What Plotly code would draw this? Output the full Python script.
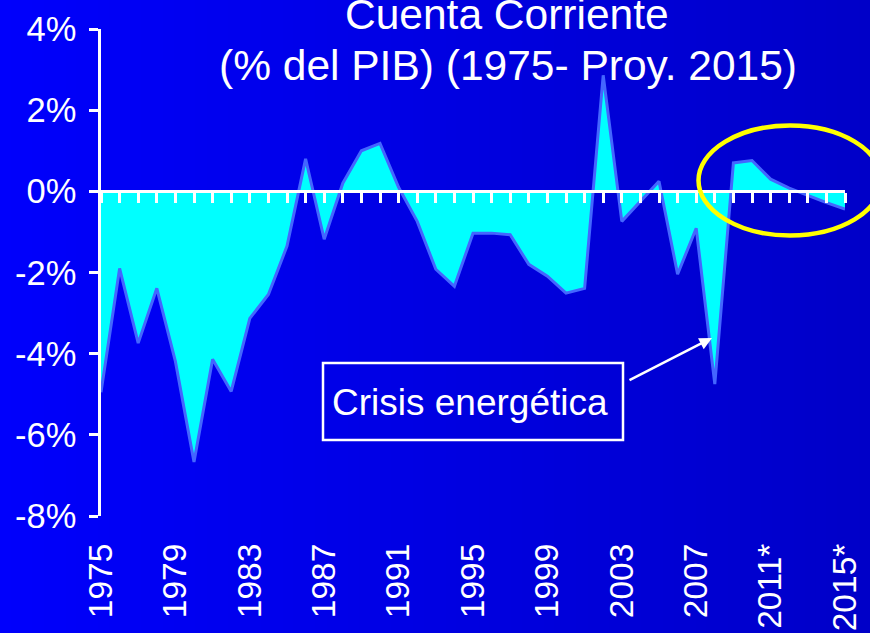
import plotly.graph_objects as go

# ---- data ----
years = list(range(1975, 2016))
cuenta_corriente = [-4.95, -1.9, -3.74, -2.39, -4.19, -6.67, -4.14, -4.93, -3.13, -2.54,
                    -1.35, 0.8, -1.18, 0.2, 1.0, 1.18, 0.1, -0.74, -1.92, -2.34,
                    -1.03, -1.03, -1.07, -1.8, -2.09, -2.51, -2.39, 2.86, -0.74, -0.25,
                    0.25, -2.04, -0.91, -4.75, 0.7, 0.76, 0.3, 0.08, -0.1, -0.28, -0.44]
x_tickvals = [1975, 1979, 1983, 1987, 1991, 1995, 1999, 2003, 2007, 2011, 2015]
x_ticktext = ["1975", "1979", "1983", "1987", "1991", "1995", "1999", "2003", "2007", "2011*", "2015*"]
y_tickvals = [-8, -6, -4, -2, 0, 2, 4]
y_ticktext = ["-8%", "-6%", "-4%", "-2%", "0%", "2%", "4%"]
title_line1 = "Cuenta Corriente"
title_line2 = "(% del PIB) (1975- Proy. 2015)"
note_text = "Crisis energética"

FONT = "Liberation Sans, Arial, sans-serif"
W, H = 870, 633
L, R, T, B = 101, 25, 29, 117
pw, ph = W - L - R, H - T - B

def px(xp):
    return (xp - L) / pw

def py(yp):
    return (H - B - yp) / ph

fig = go.Figure()
# area on the zero-line axis (x2)
fig.add_trace(go.Scatter(
    x=years, y=cuenta_corriente, mode="lines", fill="tozeroy",
    fillcolor="#00ffff", line=dict(color="#4466ff", width=3),
    hoverinfo="skip", showlegend=False, xaxis="x2", yaxis="y"))
# invisible copy so that the labelled bottom axis is drawn
fig.add_trace(go.Scatter(
    x=years, y=cuenta_corriente, mode="none", hoverinfo="skip",
    showlegend=False, xaxis="x", yaxis="y"))

# gradient background strips
shapes = []
n = 80
x_left, x_right = px(0), px(W)
for i in range(n):
    t = i / (n - 1)
    b = round(252 - 52 * t)
    x0 = x_left + (x_right - x_left) * i / n
    shapes.append(dict(type="rect", xref="paper", yref="paper", x0=x0, x1=x_right,
                       y0=py(H), y1=py(0), fillcolor=f"rgb(0,0,{b})",
                       line=dict(width=0), layer="below"))
# annotation box
shapes.append(dict(type="rect", xref="paper", yref="paper",
                   x0=px(323), x1=px(623), y0=py(440), y1=py(363),
                   line=dict(color="white", width=2.5), layer="above"))
# yellow ellipse
shapes.append(dict(type="circle", xref="paper", yref="paper",
                   x0=px(698.5), x1=px(881.5), y0=py(235.5), y1=py(125.5),
                   line=dict(color="#ffff00", width=4.5), layer="above"))

TS = 42.5
annotations = [
    dict(text=title_line1, xref="paper", yref="paper", x=px(507), y=py(29 - 0.35 * TS),
         xanchor="center", yanchor="middle", showarrow=False,
         font=dict(family=FONT, size=TS, color="white")),
    dict(text=title_line2, xref="paper", yref="paper", x=px(508), y=py(80 - 0.35 * TS),
         xanchor="center", yanchor="middle", showarrow=False,
         font=dict(family=FONT, size=TS, color="white")),
    dict(text=note_text, xref="paper", yref="paper", x=px(470), y=py(402),
         xanchor="center", yanchor="middle", showarrow=False,
         font=dict(family=FONT, size=37, color="white")),
    dict(text="", xref="paper", yref="paper", x=px(712), y=py(338),
         ax=628 - 712, ay=381 - 338, showarrow=True, arrowhead=2, arrowsize=1,
         arrowwidth=2.5, arrowcolor="white"),
]

fig.update_layout(
    width=W, height=H,
    margin=dict(l=L, r=R, t=T, b=B, pad=0, autoexpand=False),
    paper_bgcolor="rgb(0,0,228)", plot_bgcolor="rgba(0,0,0,0)",
    font=dict(family=FONT, color="white"),
    shapes=shapes, annotations=annotations,
    xaxis=dict(range=[1975, 2015], tickvals=x_tickvals, ticktext=x_ticktext,
               tickangle=-90, showline=False, showgrid=False, zeroline=False,
               ticks="", ticklabelstandoff=20, automargin=False,
               tickfont=dict(family=FONT, size=33.5, color="white"), fixedrange=True),
    xaxis2=dict(range=[1975, 2015], overlaying="x", anchor="free", position=8 / 12,
                side="bottom", showline=True, linecolor="white", linewidth=3,
                ticks="outside", ticklen=10, tickwidth=2.5, tickcolor="white",
                tick0=1975, dtick=1, showticklabels=False, showgrid=False,
                zeroline=False, layer="above traces", automargin=False, fixedrange=True),
    yaxis=dict(range=[-8, 4], tickvals=y_tickvals, ticktext=y_ticktext,
               showline=True, linecolor="white", linewidth=2.5,
               ticks="outside", ticklen=9, tickwidth=2.5, tickcolor="white",
               showgrid=False, zeroline=False, ticklabelstandoff=6, automargin=False,
               tickfont=dict(family=FONT, size=34.5, color="white"), fixedrange=True),
)

fig.write_html("out.html", config={"displayModeBar": False},
               post_script="document.body.style.margin='0';document.body.style.overflow='hidden';")
